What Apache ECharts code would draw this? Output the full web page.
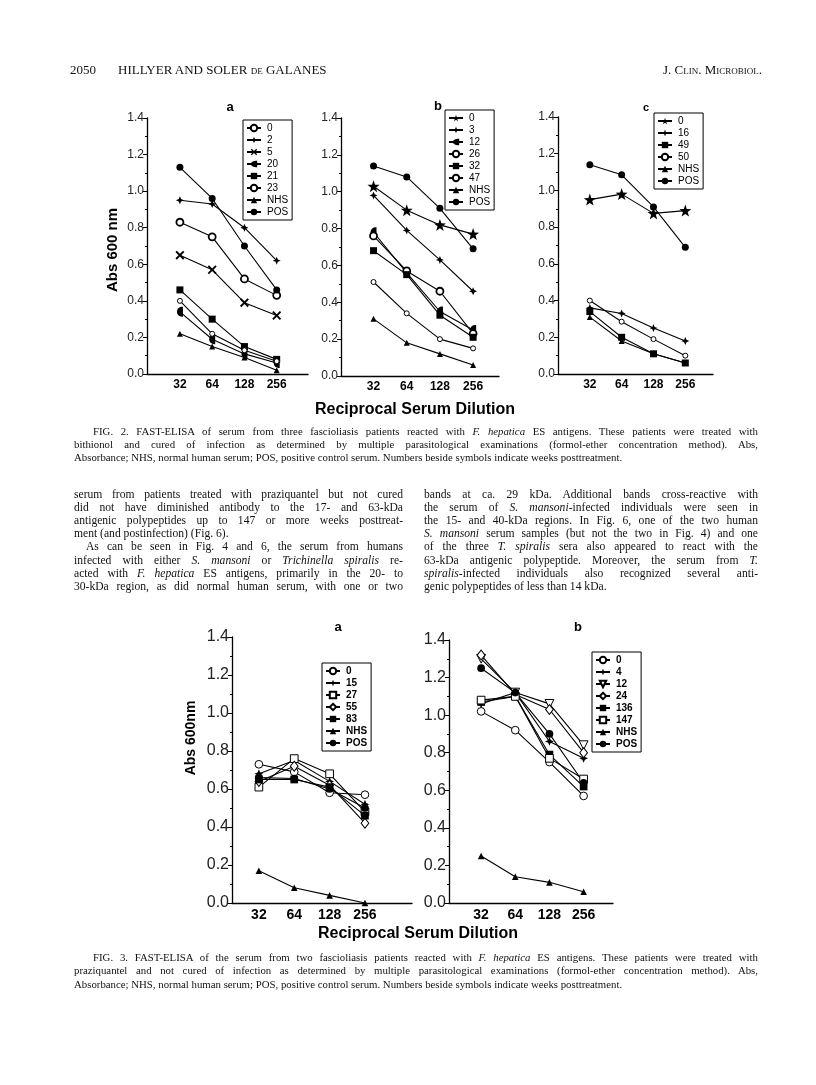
<!DOCTYPE html>
<html><head><meta charset="utf-8">
<script src="https://cdn.jsdelivr.net/npm/echarts@6/dist/echarts.min.js"></script>
<style>
body{margin:0;background:#fff;}
#page{position:relative;width:816px;height:1085px;overflow:hidden;background:#fff;}
#chart{position:absolute;left:0;top:0;width:816px;height:1085px;}
.t{position:absolute;font-family:"Liberation Serif","DejaVu Serif",serif;color:#111;white-space:nowrap;}
.sc{font-variant:small-caps;}
</style></head>
<body><div id="page"><div id="chart"></div><div id="txt"></div></div>
<script>
// ---------- data ----------
const dilutions = ['32','64','128','256'];

// Fig. 2a (weeks posttreatment)
const f2a_0   = [0.83, 0.75, 0.52, 0.43];
const f2a_2   = [0.95, 0.93, 0.80, 0.62];
const f2a_5   = [0.65, 0.57, 0.39, 0.32];
const f2a_20  = [0.34, 0.19, 0.11, 0.06];
const f2a_21  = [0.46, 0.30, 0.15, 0.08];
const f2a_23  = [0.40, 0.22, 0.13, 0.07];
const f2a_NHS = [0.22, 0.15, 0.09, 0.02];
const f2a_POS = [1.13, 0.96, 0.70, 0.46];

// Fig. 2b
const f2b_0   = [1.03, 0.90, 0.82, 0.77];
const f2b_3   = [0.98, 0.79, 0.63, 0.46];
const f2b_12  = [0.78, 0.56, 0.35, 0.25];
const f2b_26  = [0.76, 0.57, 0.46, 0.23];
const f2b_32  = [0.68, 0.55, 0.33, 0.21];
const f2b_47  = [0.51, 0.34, 0.20, 0.15];
const f2b_NHS = [0.31, 0.18, 0.12, 0.06];
const f2b_POS = [1.14, 1.08, 0.91, 0.69];

// Fig. 2c
const f2c_0   = [0.95, 0.98, 0.875, 0.89];
const f2c_16  = [0.36, 0.33, 0.25, 0.18];
const f2c_49  = [0.34, 0.20, 0.11, 0.06];
const f2c_50  = [0.40, 0.285, 0.19, 0.10];
const f2c_NHS = [0.31, 0.18, 0.11, 0.06];
const f2c_POS = [1.14, 1.085, 0.91, 0.69];

// Fig. 3a
const f3a_0   = [0.73, 0.69, 0.58, 0.57];
const f3a_15  = [0.68, 0.75, 0.64, 0.52];
const f3a_27  = [0.61, 0.76, 0.68, 0.48];
const f3a_55  = [0.64, 0.72, 0.62, 0.42];
const f3a_83  = [0.65, 0.65, 0.61, 0.46];
const f3a_NHS = [0.17, 0.08, 0.04, 0.00];
const f3a_POS = [0.66, 0.655, 0.60, 0.50];

// Fig. 3b
const f3b_0   = [1.02, 0.92, 0.75, 0.57];
const f3b_4   = [1.06, 1.12, 0.86, 0.77];
const f3b_12  = [1.30, 1.12, 1.06, 0.84];
const f3b_24  = [1.32, 1.11, 1.03, 0.80];
const f3b_136 = [1.07, 1.10, 0.79, 0.62];
const f3b_147 = [1.08, 1.10, 0.77, 0.66];
const f3b_NHS = [0.25, 0.14, 0.11, 0.06];
const f3b_POS = [1.25, 1.12, 0.90, 0.64];

// ---------- symbols ----------
function sym(kind, k) {
  const B = '#000', W = '#fff';
  switch (kind) {
    case 'ocT': return {symbol:'circle', symbolSize:7*k, itemStyle:{color:W, borderColor:B, borderWidth:1.8}};
    case 'oc':  return {symbol:'circle', symbolSize:7*k, itemStyle:{color:W, borderColor:B, borderWidth:1}};
    case 'soc': return {symbol:'circle', symbolSize:5*k, itemStyle:{color:W, borderColor:B, borderWidth:1}};
    case 'dot': return {symbol:'circle', symbolSize:7*k, itemStyle:{color:B}};
    case 'sq':  return {symbol:'rect', symbolSize:7*k, itemStyle:{color:B}};
    case 'osq': return {symbol:'rect', symbolSize:7*k, itemStyle:{color:W, borderColor:B, borderWidth:1}};
    case 'p4':  return {symbol:'path://M0,-10L3,-3L10,0L3,3L0,10L-3,3L-10,0L-3,-3Z', symbolSize:8*k, itemStyle:{color:B}};
    case 'odi': return {symbol:'diamond', symbolSize:[7*k,9*k], itemStyle:{color:W, borderColor:B, borderWidth:1}};
    case 'otd': return {symbol:'path://M-10,-8L10,-8L0,9Z', symbolSize:8*k, itemStyle:{color:W, borderColor:B, borderWidth:1}};
    case 'star':return {symbol:'path://M0,-10L2.35,-3.24L9.51,-3.09L3.8,1.24L5.88,8.09L0,4L-5.88,8.09L-3.8,1.24L-9.51,-3.09L-2.35,-3.24Z', symbolSize:12*k, itemStyle:{color:B}};
    case 'x':   return {symbol:'path://M-10,-7L-7,-10L0,-3L7,-10L10,-7L3,0L10,7L7,10L0,3L-7,10L-10,7L-3,0Z', symbolSize:9*k, itemStyle:{color:B}};
    case 'half':return {symbol:'path://M1,-10A10,10 0 0 0 1,10L3,10L3,-10Z', symbolSize:[6*k,10*k], itemStyle:{color:B}};
    case 'tri': return {symbol:'triangle', symbolSize:6*k, itemStyle:{color:B}};
  }
}

// ---------- panels ----------
const panels = [
  {id:'2a', left:147, top:118, width:161, height:256, min:-1.02, max:3.97, k:1, fy:12, fx:12,
   series:[['0',f2a_0,'ocT'],['2',f2a_2,'p4'],['5',f2a_5,'x'],['20',f2a_20,'half'],['21',f2a_21,'sq'],['23',f2a_23,'soc'],['NHS',f2a_NHS,'tri'],['POS',f2a_POS,'dot']],
   legend:{left:243, top:120}},
  {id:'2b', left:341, top:118, width:158, height:258, min:-0.98, max:3.78, k:1, fy:12, fx:12,
   series:[['0',f2b_0,'star'],['3',f2b_3,'p4'],['12',f2b_12,'half'],['26',f2b_26,'ocT'],['32',f2b_32,'sq'],['47',f2b_47,'soc'],['NHS',f2b_NHS,'tri'],['POS',f2b_POS,'dot']],
   legend:{left:445, top:110}},
  {id:'2c', left:558, top:117, width:155, height:257, min:-1.0, max:3.87, k:1, fy:12, fx:12,
   series:[['0',f2c_0,'star'],['16',f2c_16,'p4'],['49',f2c_49,'sq'],['50',f2c_50,'soc'],['NHS',f2c_NHS,'tri'],['POS',f2c_POS,'dot']],
   legend:{left:654, top:113}},
  {id:'3a', left:232, top:637, width:180, height:266, min:-0.76, max:4.33, k:1.1, fy:16, fx:14,
   series:[['0',f3a_0,'oc'],['15',f3a_15,'p4'],['27',f3a_27,'osq'],['55',f3a_55,'odi'],['83',f3a_83,'sq'],['NHS',f3a_NHS,'tri'],['POS',f3a_POS,'dot']],
   legend:{left:322, top:663}},
  {id:'3b', left:449, top:640, width:164, height:263, min:-0.94, max:3.86, k:1.1, fy:16, fx:14,
   series:[['0',f3b_0,'oc'],['4',f3b_4,'p4'],['12',f3b_12,'otd'],['24',f3b_24,'odi'],['136',f3b_136,'sq'],['147',f3b_147,'osq'],['NHS',f3b_NHS,'tri'],['POS',f3b_POS,'dot']],
   legend:{left:592, top:652}}
];

const grid = [], xAxis = [], yAxis = [], series = [], legend = [];
const SANS = '"Liberation Sans", Arial, sans-serif';
panels.forEach((p, gi) => {
  grid.push({left:p.left, top:p.top, width:p.width, height:p.height, containLabel:false});
  xAxis.push({type:'value', gridIndex:gi, min:p.min, max:p.max,
    axisLine:{show:true, onZero:false, lineStyle:{color:'#000', width:1.3}},
    axisTick:{show:false}, splitLine:{show:false},
    axisLabel:{customValues:[0,1,2,3], formatter:v => dilutions[Math.round(v)],
      fontFamily:SANS, fontWeight:'bold', fontSize:p.fx, color:'#000', margin:5}});
  yAxis.push({type:'value', gridIndex:gi, min:0, max:1.4, interval:0.2,
    axisLine:{show:true, onZero:false, lineStyle:{color:'#000', width:1.3}},
    axisTick:{show:true, length:4, lineStyle:{color:'#000'}},
    minorTick:{show:true, splitNumber:2, length:2, lineStyle:{color:'#000'}},
    splitLine:{show:false},
    axisLabel:{formatter:v => v.toFixed(1), fontFamily:SANS, fontSize:p.fy, color:'#222', margin:3}});
  const names = [];
  p.series.forEach(([lab, vals, kind]) => {
    const nm = p.id + '|' + lab;
    names.push(nm);
    series.push(Object.assign({type:'line', name:nm, xAxisIndex:gi, yAxisIndex:gi,
      data: vals.map((v, i) => [i, v]),
      lineStyle:{color:'#000', width:1.1}, showAllSymbol:true, animation:false, z:3}, sym(kind, p.k)));
  });
  legend.push({data:names, left:p.legend.left, top:p.legend.top, orient:'vertical',
    borderColor:'#000', borderWidth:1, borderRadius:0, padding:[3,4,3,3], itemGap:2,
    itemWidth:14, itemHeight:8, selectedMode:false, backgroundColor:'#fff',
    formatter:n => n.split('|')[1],
    textStyle:{fontFamily:SANS, fontSize:10, lineHeight:10, color:'#000', padding:[0,0,0,1],
      fontWeight: gi >= 3 ? 'bold' : 'normal'}});
});

const boldSans = (s) => 'bold ' + s + 'px ' + SANS;
const graphic = [
  {type:'text', x:230, y:107, style:{text:'a', font:boldSans(13), fill:'#000', align:'center', verticalAlign:'middle'}},
  {type:'text', x:438, y:106, style:{text:'b', font:boldSans(13), fill:'#000', align:'center', verticalAlign:'middle'}},
  {type:'text', x:646, y:108, style:{text:'c', font:boldSans(11), fill:'#000', align:'center', verticalAlign:'middle'}},
  {type:'text', x:113, y:250, rotation:Math.PI/2, style:{text:'Abs 600 nm', font:boldSans(15), fill:'#000', align:'center', verticalAlign:'middle'}},
  {type:'text', x:415, y:410, style:{text:'Reciprocal Serum Dilution', font:boldSans(16), fill:'#000', align:'center', verticalAlign:'middle'}},
  {type:'text', x:338, y:627, style:{text:'a', font:boldSans(13), fill:'#000', align:'center', verticalAlign:'middle'}},
  {type:'text', x:578, y:627, style:{text:'b', font:boldSans(13), fill:'#000', align:'center', verticalAlign:'middle'}},
  {type:'text', x:191, y:738, rotation:Math.PI/2, style:{text:'Abs 600nm', font:boldSans(14), fill:'#000', align:'center', verticalAlign:'middle'}},
  {type:'text', x:418, y:934, style:{text:'Reciprocal Serum Dilution', font:boldSans(16), fill:'#000', align:'center', verticalAlign:'middle'}}
];

const chart = echarts.init(document.getElementById('chart'), null, {renderer:'canvas'});
chart.setOption({animation:false, backgroundColor:'#fff', grid, xAxis, yAxis, series, legend, graphic});

// ---------- prose ----------
const cap2 = [
  ['FIG. 2. FAST-ELISA of serum from three fascioliasis patients reacted with <i>F. hepatica</i> ES antigens. These patients were treated with', 1],
  ['bithionol and cured of infection as determined by multiple parasitological examinations (formol-ether concentration method). Abs,', 1],
  ['Absorbance; NHS, normal human serum; POS, positive control serum. Numbers beside symbols indicate weeks posttreatment.', 0]
];
const cap3 = [
  ['FIG. 3. FAST-ELISA of the serum from two fascioliasis patients reacted with <i>F. hepatica</i> ES antigens. These patients were treated with', 1],
  ['praziquantel and not cured of infection as determined by multiple parasitological examinations (formol-ether concentration method). Abs,', 1],
  ['Absorbance; NHS, normal human serum; POS, positive control serum. Numbers beside symbols indicate weeks posttreatment.', 0]
];
const colL = [
  ['serum from patients treated with praziquantel but not cured', 1],
  ['did not have diminished antibody to the 17- and 63-kDa', 1],
  ['antigenic polypeptides up to 147 or more weeks posttreat-', 1],
  ['ment (and postinfection) (Fig. 6).', 0],
  ['As can be seen in Fig. 4 and 6, the serum from humans', 1, 12],
  ['infected with either <i>S. mansoni</i> or <i>Trichinella spiralis</i> re-', 1],
  ['acted with <i>F. hepatica</i> ES antigens, primarily in the 20- to', 1],
  ['30-kDa region, as did normal human serum, with one or two', 1]
];
const colR = [
  ['bands at ca. 29 kDa. Additional bands cross-reactive with', 1],
  ['the serum of <i>S. mansoni</i>-infected individuals were seen in', 1],
  ['the 15- and 40-kDa regions. In Fig. 6, one of the two human', 1],
  ['<i>S. mansoni</i> serum samples (but not the two in Fig. 4) and one', 1],
  ['of the three <i>T. spiralis</i> sera also appeared to react with the', 1],
  ['63-kDa antigenic polypeptide. Moreover, the serum from <i>T.</i>', 1],
  ['<i>spiralis</i>-infected individuals also recognized several anti-', 1],
  ['genic polypeptides of less than 14 kDa.', 0]
];

const txt = document.getElementById('txt');
function addLine(html, x, yc, w, size, just, indent, alignRight) {
  const d = document.createElement('div');
  d.className = 't';
  d.style.left = (x + (indent || 0)) + 'px';
  d.style.top = (yc - size * 0.6) + 'px';
  d.style.fontSize = size + 'px';
  d.style.lineHeight = (size * 1.2) + 'px';
  d.innerHTML = '<span>' + html + '</span>';
  txt.appendChild(d);
  const sp = d.firstChild;
  if (just) {
    const target = w - (indent || 0);
    const nat = sp.getBoundingClientRect().width;
    const n = (sp.textContent.match(/ /g) || []).length;
    if (n > 0) sp.style.wordSpacing = ((target - nat) / n) + 'px';
  }
  if (alignRight) {
    const wd = sp.getBoundingClientRect().width;
    d.style.left = (x - wd) + 'px';
  }
}
addLine('2050', 70, 70, 0, 13, false);
addLine('HILLYER AND SOLER <span class="sc">de</span> GALANES', 118, 70, 0, 13, false);
addLine('J. C<span class="sc">lin</span>. M<span class="sc">icrobiol</span>.', 762, 70, 0, 13, false, 0, true);

const L = 74, R = 758;
function block(lines, x, y0, dy, w, size, firstIndent) {
  lines.forEach((ln, i) => addLine(ln[0], x, y0 + i * dy, w, size, ln[1], ln[2] !== undefined ? ln[2] : (i === 0 ? firstIndent : 0)));
}
block(cap2, L, 431, 13.2, R - L, 10.8, 19);
block(colL, L, 495, 13.1, 329, 11.6, 0);
block(colR, 424, 495, 13.1, R - 424, 11.6, 0);
block(cap3, L, 957, 13.7, R - L, 10.8, 19);
</script>
</body></html>
